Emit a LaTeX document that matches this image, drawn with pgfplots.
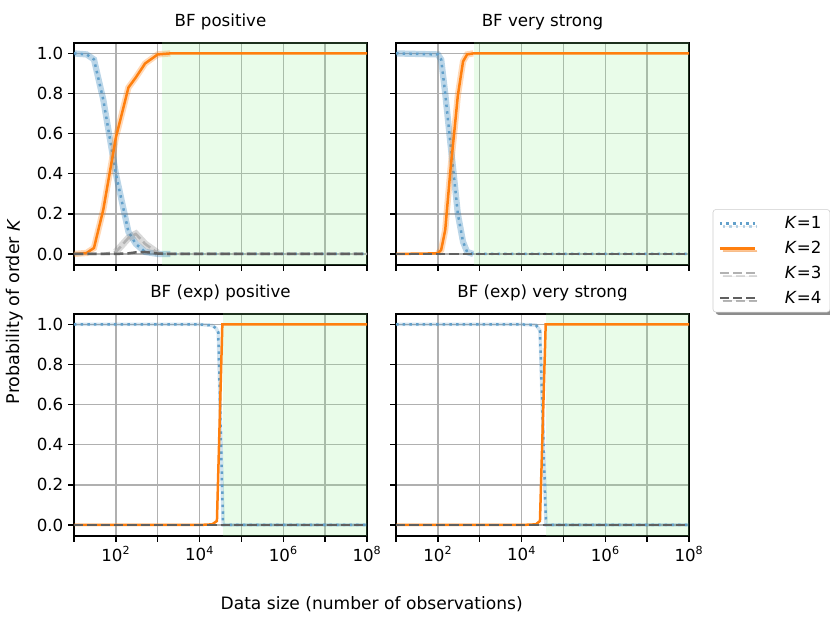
\documentclass[border=0pt]{standalone}
\usepackage{fontspec}
\setmainfont{DejaVu Sans}
\usepackage{pgfplots}
\pgfplotsset{compat=1.18}
\usetikzlibrary{shadows}
\definecolor{tabblue}{HTML}{1F77B4}
\definecolor{taborange}{HTML}{FF7F0E}
\definecolor{lgreen}{RGB}{144,238,144}
\definecolor{gridc}{HTML}{B0B0B0}
\definecolor{kthree}{HTML}{B2B2B2}
\definecolor{kfour}{HTML}{606060}
\tikzset{
  kA/.style={tabblue!70!white, line width=1.8pt, dash pattern=on 1.8pt off 3pt},
  kB/.style={taborange, line width=1.8pt},
  kC/.style={kthree, line width=1.8pt, dash pattern=on 6.7pt off 2.9pt},
  kD/.style={kfour, line width=1.8pt, dash pattern=on 6.7pt off 2.9pt},
  bA/.style={tabblue, opacity=0.3, line width=4.5pt},
  bB/.style={taborange, opacity=0.3, line width=4.5pt},
  bC/.style={gray, opacity=0.3, line width=5pt},
  gfill/.style={fill=lgreen, fill opacity=0.2, draw=none},
}
\begin{document}
\begin{tikzpicture}
\useasboundingbox (0pt,0pt) rectangle (597.6pt,448.56pt);
% ---------- top left
\begin{axis}[width=210.96pt, height=159.84pt, scale only axis,
    xmode=log, xmin=10, xmax=1e8, ymin=-0.055, ymax=1.052,
    xtick={10,100,1000,10000,100000,1000000,10000000,100000000}, xminorticks=false,
    ytick={0,0.2,0.4,0.6,0.8,1.0}, tick pos=left,
    grid=major, major grid style={gridc, line width=1pt},
    tick align=outside, major tick length=4.2pt,
    tick style={black, line width=1pt},
    axis line style={line width=1pt},
    tick label style={font=\fontsize{12}{14}\selectfont},
    yticklabel style={/pgf/number format/fixed, /pgf/number format/fixed zerofill, /pgf/number format/precision=1, /pgf/number format/assume math mode=true},
    title style={font=\fontsize{12}{14}\selectfont},
    at={(53.28pt,257.76pt)}, anchor=south west,
    title={BF positive}, xticklabels={}]
\addplot[gfill, forget plot] coordinates {(1260,-0.2) (1260,1.2) (1e8,1.2) (1e8,-0.2)};
\addplot[bA, forget plot] coordinates {(10,1.0) (20,0.995) (30,0.97) (50,0.77) (100,0.40) (200,0.11) (300,0.05) (500,0.01) (1000,0.0) (2000,0)};
\addplot[kA, forget plot] coordinates {(10,1.0) (20,0.995) (30,0.97) (50,0.77) (100,0.40) (200,0.11) (300,0.05) (500,0.01) (1000,0.0) (2000,0) (1e4,0) (1e8,0)};
\addplot[bB, forget plot] coordinates {(10,0.0) (20,0.005) (30,0.03) (50,0.22) (100,0.58) (200,0.83) (300,0.88) (500,0.95) (1000,0.995) (2000,1.0)};
\addplot[kB, forget plot] coordinates {(10,0.0) (20,0.005) (30,0.03) (50,0.22) (100,0.58) (200,0.83) (300,0.88) (500,0.95) (1000,0.995) (2000,1.0) (1e8,1.0)};
\addplot[bC, forget plot] coordinates {(100,0.01) (200,0.08) (300,0.10) (500,0.05) (1000,0.005)};
\addplot[kC, forget plot] coordinates {(10,0) (50,0) (100,0.01) (200,0.08) (300,0.10) (500,0.05) (1000,0.005) (2000,0) (1e8,0)};
\addplot[kD, forget plot] coordinates {(10,0) (100,0) (200,0.003) (300,0.008) (500,0.01) (1000,0.002) (2000,0) (1e8,0)};
\end{axis}
% ---------- top right
\begin{axis}[width=210.96pt, height=159.84pt, scale only axis,
    xmode=log, xmin=10, xmax=1e8, ymin=-0.055, ymax=1.052,
    xtick={10,100,1000,10000,100000,1000000,10000000,100000000}, xminorticks=false,
    ytick={0,0.2,0.4,0.6,0.8,1.0}, tick pos=left,
    grid=major, major grid style={gridc, line width=1pt},
    tick align=outside, major tick length=4.2pt,
    tick style={black, line width=1pt},
    axis line style={line width=1pt},
    tick label style={font=\fontsize{12}{14}\selectfont},
    title style={font=\fontsize{12}{14}\selectfont},
    at={(285.12pt,257.76pt)}, anchor=south west,
    title={BF very strong}, xticklabels={}, yticklabels={},
    legend style={at={(1.081,0.251)}, anchor=north west, draw=black!20, fill=white,
      rounded corners=2pt, drop shadow={shadow xshift=2pt, shadow yshift=-2pt, fill=black, opacity=0.45},
      font=\fontsize{12}{14}\selectfont, inner xsep=4pt, inner ysep=3pt, row sep=3.5pt},
    legend cell align=left,
    legend image code/.code={\draw[#1] (0pt,0pt) -- (25pt,0pt);}]
\addlegendimage{kA}\addlegendentry{{\hspace{19pt}\textit{K}=1}}
\addlegendimage{kB}\addlegendentry{{\hspace{19pt}\textit{K}=2}}
\addlegendimage{kC}\addlegendentry{{\hspace{19pt}\textit{K}=3}}
\addlegendimage{kD}\addlegendentry{{\hspace{19pt}\textit{K}=4}}
\addplot[gfill, forget plot] coordinates {(716,-0.2) (716,1.2) (1e8,1.2) (1e8,-0.2)};
\addplot[bA, forget plot] coordinates {(10,1) (100,0.995) (120,0.97) (150,0.80) (200,0.55) (250,0.36) (300,0.20) (400,0.06) (500,0.01) (700,0)};
\addplot[kA, forget plot] coordinates {(10,1) (100,0.995) (120,0.97) (150,0.80) (200,0.55) (250,0.36) (300,0.20) (400,0.06) (500,0.01) (700,0) (1e8,0)};
\addplot[bB, forget plot] coordinates {(100,0.003) (120,0.02) (150,0.12) (200,0.42) (250,0.62) (300,0.79) (400,0.96) (500,0.995) (700,1)};
\addplot[kB, forget plot] coordinates {(10,0) (100,0.003) (120,0.02) (150,0.12) (200,0.42) (250,0.62) (300,0.79) (400,0.96) (500,0.995) (700,1) (1e8,1)};
\addplot[kC, forget plot] coordinates {(10,0) (1e8,0)};
\addplot[kD, forget plot] coordinates {(10,0) (1e8,0)};
\end{axis}
% ---------- bottom left
\begin{axis}[width=210.96pt, height=159.84pt, scale only axis,
    xmode=log, xmin=10, xmax=1e8, ymin=-0.055, ymax=1.052,
    xtick={10,100,1000,10000,100000,1000000,10000000,100000000}, xminorticks=false,
    ytick={0,0.2,0.4,0.6,0.8,1.0}, tick pos=left,
    grid=major, major grid style={gridc, line width=1pt},
    tick align=outside, major tick length=4.2pt,
    tick style={black, line width=1pt},
    axis line style={line width=1pt},
    tick label style={font=\fontsize{12}{14}\selectfont},
    yticklabel style={/pgf/number format/fixed, /pgf/number format/fixed zerofill, /pgf/number format/precision=1, /pgf/number format/assume math mode=true},
    title style={font=\fontsize{12}{14}\selectfont},
    at={(53.28pt,62.64pt)}, anchor=south west,
    title={BF (exp) positive},
    xticklabels={{},10\textsuperscript{2},{},10\textsuperscript{4},{},10\textsuperscript{6},{},10\textsuperscript{8}}]
\addplot[gfill, forget plot] coordinates {(36000,-0.2) (36000,1.2) (1e8,1.2) (1e8,-0.2)};
\addplot[bA, line width=2.5pt, opacity=0.2, forget plot] coordinates {(10,1) (1e4,1) (20000,0.995) (25000,0.98) (28000,0.96) (36500,0) (1e8,0)};
\addplot[kA, forget plot] coordinates {(10,1) (1e4,1) (20000,0.995) (25000,0.98) (28000,0.96) (36500,0) (1e8,0)};
\addplot[kB, forget plot] coordinates {(10,0) (1e4,0) (20000,0.003) (26000,0.02) (35000,1) (1e8,1)};
\addplot[kC, forget plot] coordinates {(10,0) (1e8,0)};
\addplot[kD, forget plot] coordinates {(10,0) (1e8,0)};
\end{axis}
% ---------- bottom right
\begin{axis}[width=210.96pt, height=159.84pt, scale only axis,
    xmode=log, xmin=10, xmax=1e8, ymin=-0.055, ymax=1.052,
    xtick={10,100,1000,10000,100000,1000000,10000000,100000000}, xminorticks=false,
    ytick={0,0.2,0.4,0.6,0.8,1.0}, tick pos=left,
    grid=major, major grid style={gridc, line width=1pt},
    tick align=outside, major tick length=4.2pt,
    tick style={black, line width=1pt},
    axis line style={line width=1pt},
    tick label style={font=\fontsize{12}{14}\selectfont},
    title style={font=\fontsize{12}{14}\selectfont},
    at={(285.12pt,62.64pt)}, anchor=south west,
    title={BF (exp) very strong}, yticklabels={},
    xticklabels={{},10\textsuperscript{2},{},10\textsuperscript{4},{},10\textsuperscript{6},{},10\textsuperscript{8}}]
\addplot[gfill, forget plot] coordinates {(37500,-0.2) (37500,1.2) (1e8,1.2) (1e8,-0.2)};
\addplot[bA, line width=2.5pt, opacity=0.2, forget plot] coordinates {(10,1) (1e4,1) (22000,0.997) (27500,0.97) (38400,0) (1e8,0)};
\addplot[kA, forget plot] coordinates {(10,1) (1e4,1) (22000,0.997) (27500,0.97) (38400,0) (1e8,0)};
\addplot[kB, forget plot] coordinates {(10,0) (1e4,0) (22000,0.003) (27500,0.02) (37700,1) (1e8,1)};
\addplot[kC, forget plot] coordinates {(10,0) (1e8,0)};
\addplot[kD, forget plot] coordinates {(10,0) (1e8,0)};
\end{axis}
\node[rotate=90, font=\fontsize{12.6}{14}\selectfont] at (10.8pt,224.3pt) {Probability of order \textit{K}};
\node[font=\fontsize{12.3}{14}\selectfont] at (267.6pt,13.68pt) {Data size (number of observations)};
\end{tikzpicture}
\end{document}
